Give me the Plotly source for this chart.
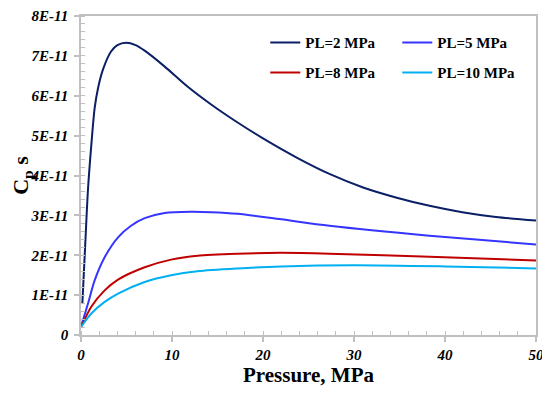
import plotly.graph_objects as go

# Pressure (MPa) and Cp s values
x_pl2 = [0.15, 0.45, 0.77, 1.14, 1.5, 1.87, 2.4, 3.3, 4.0, 4.95, 6.0, 7.0, 9.2, 11.7, 14.3, 17.0, 20.0, 23.7, 27.3, 31.0, 34.6, 38.3, 41.9, 45.6, 50.0]
y_pl2 = [0.80e-11, 2.2e-11, 3.66e-11, 4.78e-11, 5.69e-11, 6.19e-11, 6.65e-11, 7.11e-11, 7.27e-11, 7.33e-11, 7.27e-11, 7.13e-11, 6.73e-11, 6.23e-11, 5.78e-11, 5.36e-11, 4.93e-11, 4.45e-11, 4.04e-11, 3.70e-11, 3.45e-11, 3.24e-11, 3.08e-11, 2.96e-11, 2.87e-11]

x_pl5 = [0.0, 0.77, 1.5, 2.6, 4.07, 5.5, 7.0, 9.2, 12.1, 14.3, 17.2, 22.0, 27.3, 38.3, 50.0]
y_pl5 = [0.21e-11, 0.79e-11, 1.37e-11, 1.95e-11, 2.45e-11, 2.74e-11, 2.93e-11, 3.06e-11, 3.09e-11, 3.08e-11, 3.04e-11, 2.90e-11, 2.74e-11, 2.49e-11, 2.27e-11]

x_pl8 = [0.0, 1.13, 2.6, 4.07, 7.0, 9.9, 12.8, 17.2, 21.9, 27.3, 38.3, 50.0]
y_pl8 = [0.20e-11, 0.71e-11, 1.12e-11, 1.39e-11, 1.70e-11, 1.89e-11, 1.99e-11, 2.04e-11, 2.06e-11, 2.04e-11, 1.96e-11, 1.87e-11]

x_pl10 = [0.0, 1.13, 2.6, 4.07, 7.0, 9.9, 12.8, 17.2, 22.0, 30.0, 40.0, 50.0]
y_pl10 = [0.20e-11, 0.54e-11, 0.83e-11, 1.04e-11, 1.33e-11, 1.50e-11, 1.60e-11, 1.67e-11, 1.72e-11, 1.75e-11, 1.72e-11, 1.67e-11]

names = ["PL=2 MPa", "PL=5 MPa", "PL=8 MPa", "PL=10 MPa"]
colors = ["#0b1f66", "#3535ff", "#c00000", "#00b0f0"]

x_tickvals = [0, 10, 20, 30, 40, 50]
x_ticktext = ["0", "10", "20", "30", "40", "50"]
y_tickvals = [0, 1e-11, 2e-11, 3e-11, 4e-11, 5e-11, 6e-11, 7e-11, 8e-11]
y_ticktext = ["0", "1E-11", "2E-11", "3E-11", "4E-11", "5E-11", "6E-11", "7E-11", "8E-11"]

serif = "Times New Roman"

fig = go.Figure()
series = [(x_pl2, y_pl2), (x_pl5, y_pl5), (x_pl8, y_pl8), (x_pl10, y_pl10)]
legends = ["legend", "legend", "legend2", "legend2"]
for (xs, ys), n, c, lg in zip(series, names, colors, legends):
    fig.add_trace(go.Scatter(x=xs, y=ys, mode="lines", name=n,
                             line=dict(color=c, width=2, shape="spline", smoothing=0.8),
                             legend=lg))

axis_common = dict(showline=True, linecolor="#c0c0c0", linewidth=1.5, mirror=True,
                   showgrid=False, zeroline=False, ticks="outside", ticklen=5,
                   tickcolor="#c0c0c0", tickwidth=1.5, automargin=False,
                   ticklabeloverflow="allow",
                   tickfont=dict(family=serif, size=15, color="black", weight="bold", style="italic"))

fig.update_layout(
    width=542, height=385,
    margin=dict(l=73, r=14, t=8, b=58),
    plot_bgcolor="white", paper_bgcolor="white",
    font=dict(family=serif),
    showlegend=True,
    xaxis=dict(range=[0, 50], tickvals=x_tickvals, ticktext=x_ticktext,
               minor=dict(dtick=2, ticks="inside", ticklen=4, tickcolor="#c0c0c0", tickwidth=1),
               title=dict(text="Pressure, MPa", font=dict(family=serif, size=21, color="black", weight="bold"), standoff=6),
               **axis_common),
    yaxis=dict(range=[0, 8e-11], tickvals=y_tickvals, ticktext=y_ticktext,
               ticklabelstandoff=3,
               minor=dict(dtick=0.2e-11, ticks="inside", ticklen=4, tickcolor="#c0c0c0", tickwidth=1),
               title=dict(text="C<sub>p</sub> s", font=dict(family=serif, size=22, color="black", weight="bold"), standoff=8),
               **axis_common),
    legend=dict(orientation="h", x=0.405, xanchor="left", y=0.916, yanchor="middle",
                entrywidth=87, entrywidthmode="pixels", bgcolor="rgba(0,0,0,0)",
                font=dict(family=serif, size=15, color="black", weight="bold")),
    legend2=dict(orientation="h", x=0.405, xanchor="left", y=0.822, yanchor="middle",
                 entrywidth=87, entrywidthmode="pixels", bgcolor="rgba(0,0,0,0)",
                 font=dict(family=serif, size=15, color="black", weight="bold")),
)

fig.write_html("out.html")
